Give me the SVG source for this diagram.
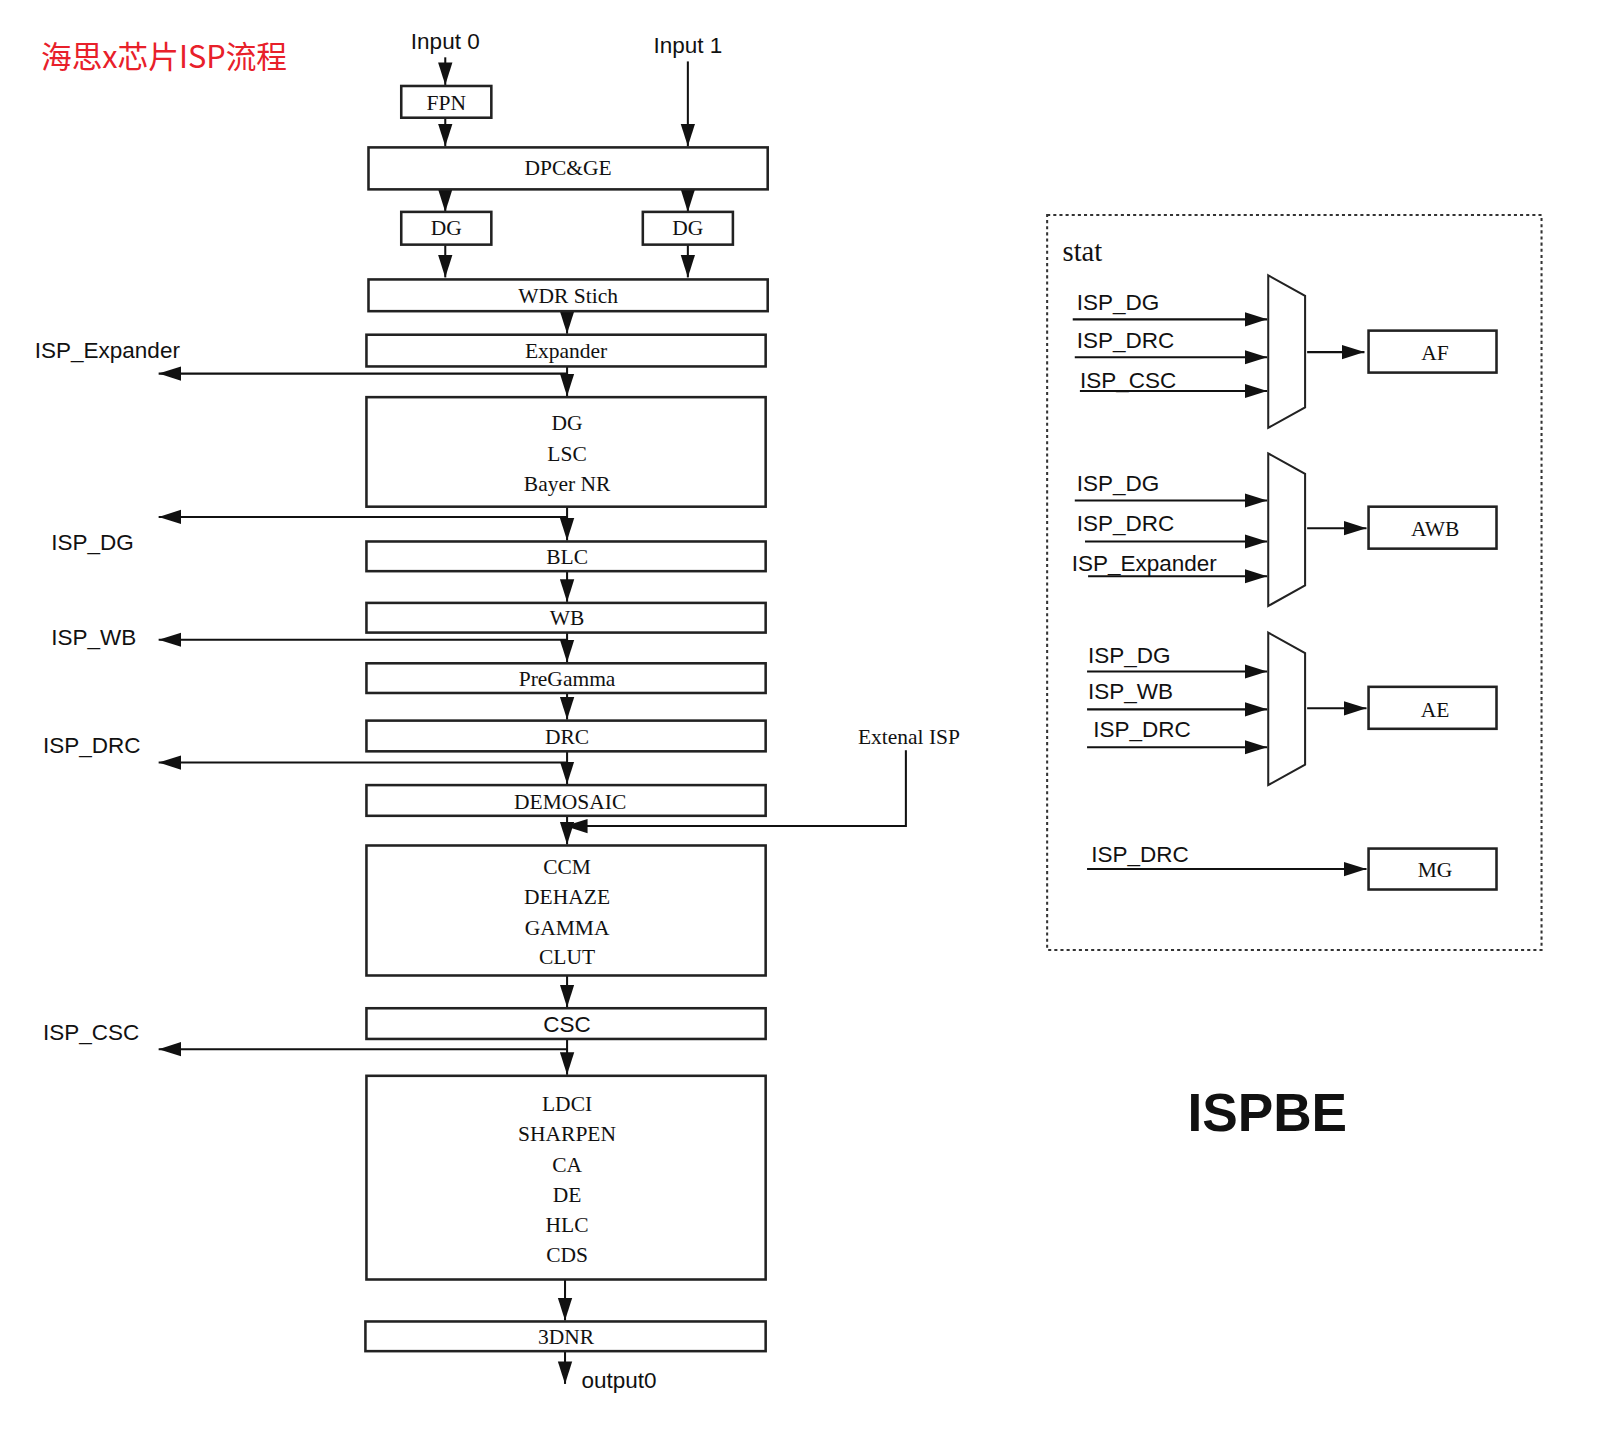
<svg xmlns="http://www.w3.org/2000/svg" width="1605" height="1435" viewBox="0 0 1605 1435">
<style>
.b{fill:#fff;stroke:#222;stroke-width:2.5}
.s{font-family:"Liberation Serif",serif;font-size:21px;fill:#111;text-anchor:middle}
.a{font-family:"Liberation Sans",Arial,sans-serif;font-size:22px;fill:#111}
.c{fill:none;stroke:#111;stroke-width:2}
.ar{marker-end:url(#m)}
</style>
<defs>
<marker id="m" markerUnits="userSpaceOnUse" markerWidth="24" markerHeight="16" refX="22" refY="8" orient="auto"><path d="M0,1 L22,8 L0,15 Z" fill="#111"/></marker>
</defs>
<rect width="1605" height="1435" fill="#fff"/>
<g transform="scale(1.0236)">
<text x="40" y="66" font-family="'Noto Sans CJK SC','Liberation Sans',sans-serif" font-size="30" fill="#e8202a">海思x芯片ISP流程</text>
<text class="a" x="435" y="48" text-anchor="middle">Input 0</text>
<text class="a" x="672" y="52" text-anchor="middle">Input 1</text>

<g id="connectors">
<line class="c ar" x1="435" y1="56" x2="435" y2="83"/>
<line class="c ar" x1="435" y1="115" x2="435" y2="143"/>
<line class="c ar" x1="672" y1="60" x2="672" y2="143"/>
<line class="c ar" x1="435" y1="185" x2="435" y2="207"/>
<line class="c ar" x1="672" y1="185" x2="672" y2="207"/>
<line class="c ar" x1="435" y1="239" x2="435" y2="271"/>
<line class="c ar" x1="672" y1="239" x2="672" y2="271"/>
<line class="c ar" x1="554" y1="304" x2="554" y2="326"/>
<line class="c ar" x1="554" y1="358" x2="554" y2="387"/>
<line class="c ar" x1="554" y1="365" x2="155" y2="365"/>
<line class="c ar" x1="554" y1="495" x2="554" y2="528"/>
<line class="c ar" x1="554" y1="505" x2="155" y2="505"/>
<line class="c ar" x1="554" y1="558" x2="554" y2="588"/>
<line class="c ar" x1="554" y1="618" x2="554" y2="647"/>
<line class="c ar" x1="554" y1="625" x2="155" y2="625"/>
<line class="c ar" x1="554" y1="677" x2="554" y2="703"/>
<line class="c ar" x1="554" y1="734" x2="554" y2="766"/>
<line class="c ar" x1="554" y1="745" x2="155" y2="745"/>
<line class="c ar" x1="554" y1="797" x2="554" y2="825"/>
<polyline class="c ar" points="885,733 885,807 552,807"/>
<line class="c ar" x1="554" y1="953" x2="554" y2="984"/>
<line class="c ar" x1="554" y1="1015" x2="554" y2="1050"/>
<line class="c ar" x1="554" y1="1025" x2="155" y2="1025"/>
<line class="c ar" x1="552" y1="1250" x2="552" y2="1290"/>
<line class="c ar" x1="552" y1="1320" x2="552" y2="1352"/>
<line class="c ar" x1="1048" y1="312" x2="1238" y2="312"/>
<line class="c ar" x1="1050" y1="349" x2="1238" y2="349"/>
<line class="c ar" x1="1055" y1="382" x2="1238" y2="382"/>
<line class="c ar" x1="1277" y1="344" x2="1333" y2="344"/>
<line class="c ar" x1="1050" y1="489" x2="1238" y2="489"/>
<line class="c ar" x1="1060" y1="529" x2="1238" y2="529"/>
<line class="c ar" x1="1063" y1="563" x2="1238" y2="563"/>
<line class="c ar" x1="1277" y1="516" x2="1335" y2="516"/>
<line class="c ar" x1="1062" y1="656" x2="1238" y2="656"/>
<line class="c ar" x1="1062" y1="693" x2="1238" y2="693"/>
<line class="c ar" x1="1062" y1="730" x2="1238" y2="730"/>
<line class="c ar" x1="1277" y1="692" x2="1335" y2="692"/>
<line class="c ar" x1="1062" y1="849" x2="1335" y2="849"/>
</g>

<g id="fpn"><rect class="b" x="392" y="84" width="88" height="31"/><text class="s" x="436" y="107">FPN</text></g>
<g id="dpcge"><rect class="b" x="360" y="144" width="390" height="41"/><text class="s" x="555" y="171">DPC&amp;GE</text></g>
<g id="dg0"><rect class="b" x="392" y="207" width="88" height="32"/><text class="s" x="436" y="230">DG</text></g>
<g id="dg1"><rect class="b" x="628" y="207" width="88" height="32"/><text class="s" x="672" y="230">DG</text></g>
<g id="wdr"><rect class="b" x="360" y="273" width="390" height="31"/><text class="s" x="555" y="296">WDR Stich</text></g>
<g id="expander"><rect class="b" x="358" y="327" width="390" height="31"/><text class="s" x="553" y="350">Expander</text></g>
<g id="dglsc"><rect class="b" x="358" y="388" width="390" height="107"/><text class="s" x="554" y="420">DG</text><text class="s" x="554" y="450">LSC</text><text class="s" x="554" y="480">Bayer NR</text></g>
<g id="blc"><rect class="b" x="358" y="529" width="390" height="29"/><text class="s" x="554" y="551">BLC</text></g>
<g id="wb"><rect class="b" x="358" y="589" width="390" height="29"/><text class="s" x="554" y="611">WB</text></g>
<g id="pregamma"><rect class="b" x="358" y="648" width="390" height="29"/><text class="s" x="554" y="670">PreGamma</text></g>
<g id="drc"><rect class="b" x="358" y="704" width="390" height="30"/><text class="s" x="554" y="727">DRC</text></g>
<g id="demosaic"><rect class="b" x="358" y="767" width="390" height="30"/><text class="s" x="557" y="790">DEMOSAIC</text></g>
<g id="ccm"><rect class="b" x="358" y="826" width="390" height="127"/><text class="s" x="554" y="854">CCM</text><text class="s" x="554" y="883">DEHAZE</text><text class="s" x="554" y="913">GAMMA</text><text class="s" x="554" y="942">CLUT</text></g>
<g id="csc"><rect class="b" x="358" y="985" width="390" height="30"/><text class="a" x="554" y="1008" text-anchor="middle">CSC</text></g>
<g id="ldci"><rect class="b" x="358" y="1051" width="390" height="199"/><text class="s" x="554" y="1085">LDCI</text><text class="s" x="554" y="1115">SHARPEN</text><text class="s" x="554" y="1145">CA</text><text class="s" x="554" y="1174">DE</text><text class="s" x="554" y="1204">HLC</text><text class="s" x="554" y="1233">CDS</text></g>
<g id="dnr"><rect class="b" x="357" y="1291" width="391" height="29"/><text class="s" x="553" y="1313">3DNR</text></g>

<text class="a" x="34" y="350">ISP_Expander</text>
<text class="a" x="50" y="537">ISP_DG</text>
<text class="a" x="50" y="630">ISP_WB</text>
<text class="a" x="42" y="736">ISP_DRC</text>
<text class="a" x="42" y="1016">ISP_CSC</text>
<text class="s" x="888" y="727">Extenal ISP</text>
<text class="a" x="568" y="1356">output0</text>

<g id="stat">
<rect x="1023" y="210" width="483" height="718" fill="none" stroke="#333" stroke-width="2" stroke-dasharray="3,3"/>
<text x="1038" y="255" font-family="'Liberation Serif',serif" font-size="28" fill="#111">stat</text>
</g>
<g id="mux1"><polygon class="b" points="1239,269 1275,289 1275,398 1239,418" style="stroke-width:2"/></g>
<g id="mux2"><polygon class="b" points="1239,443 1275,463 1275,572 1239,592" style="stroke-width:2"/></g>
<g id="mux3"><polygon class="b" points="1239,618 1275,638 1275,747 1239,767" style="stroke-width:2"/></g>
<g id="af"><rect class="b" x="1337" y="323" width="125" height="41"/><text class="s" x="1402" y="352">AF</text></g>
<g id="awb"><rect class="b" x="1337" y="495" width="125" height="41"/><text class="s" x="1402" y="524">AWB</text></g>
<g id="ae"><rect class="b" x="1337" y="671" width="125" height="41"/><text class="s" x="1402" y="700">AE</text></g>
<g id="mg"><rect class="b" x="1337" y="829" width="125" height="40"/><text class="s" x="1402" y="857">MG</text></g>
<text class="a" x="1052" y="303">ISP_DG</text>
<text class="a" x="1052" y="340">ISP_DRC</text>
<text class="a" x="1055" y="379">ISP_CSC</text>
<text class="a" x="1052" y="480">ISP_DG</text>
<text class="a" x="1052" y="519">ISP_DRC</text>
<text class="a" x="1047" y="558">ISP_Expander</text>
<text class="a" x="1063" y="648">ISP_DG</text>
<text class="a" x="1063" y="683">ISP_WB</text>
<text class="a" x="1068" y="720">ISP_DRC</text>
<text class="a" x="1066" y="842">ISP_DRC</text>
<text x="1160" y="1105" font-family="'Liberation Sans',Arial,sans-serif" font-weight="bold" font-size="52" fill="#111">ISPBE</text>
</g>
</svg>
